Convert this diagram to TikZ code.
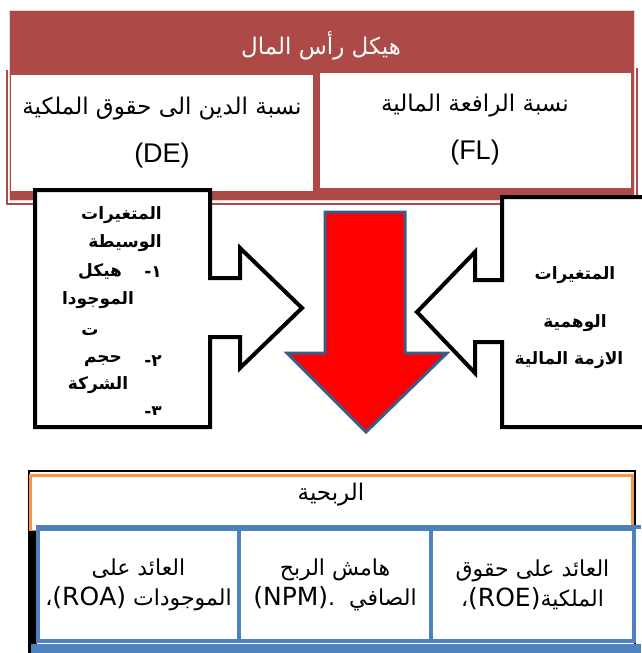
\documentclass[tikz,border=0pt]{standalone}
\usepackage{fontspec}
\setmainfont{Liberation Sans}
\newfontfamily\arabicfont[Script=Arabic]{DejaVu Sans}
\TeXXeTstate=1
\usepackage{tikz}
\usetikzlibrary{positioning}
\definecolor{capred}{RGB}{173,74,71}
\definecolor{profitorange}{RGB}{247,150,70}
\definecolor{cellblue}{RGB}{79,129,189}
\definecolor{arrowblue}{RGB}{56,93,138}
\newcommand{\ar}[1]{{\arabicfont\beginR #1\endR}}
\newcommand{\enbig}{\fontsize{27}{30}\selectfont}
\newcommand{\enmid}{\fontsize{25}{28}\selectfont}
\tikzstyle{cell} = [fill=white, align=center, inner sep=0pt, font=\fontsize{23}{26}\selectfont]
\tikzstyle{callout} = [draw=black, fill=white, line width=4, line join=miter]
\tikzstyle{calltext} = [inner sep=0pt, font=\arabicfont\bfseries\fontsize{17}{20}\selectfont]

\begin{document}
\begin{tikzpicture}[x=1pt, y=-1pt]
        \tikzstyle{bluecell} = [cell, draw=cellblue, line width=4, minimum width=196, minimum height=112, font=\fontsize{22}{26}\selectfont]
        \useasboundingbox (0,0) rectangle (641,653);

        % capital structure
        \draw[capred, line width=1.5] (7,70) -- (7,204) -- (637,204) -- (637,68);
        \draw[black!15, fill=capred] (9,10) rectangle (634,200);
        \node (captitle) at (321,46) [text=white, font=\arabicfont\fontsize{23}{26}\selectfont] {\ar{هيكل رأس المال}};
        \node (de) at (162,133) [cell, minimum width=302, minimum height=116] {\ar{نسبة الدين الى حقوق الملكية}\\[22pt]{\enbig(DE)}};
        \node (fl) at (475,130) [cell, minimum width=311, minimum height=115] {\ar{نسبة الرافعة المالية}\\[22pt]{\enbig(FL)}};

        % down arrow
        \draw[fill=red, draw=arrowblue, line width=3, line join=miter]
            (325,212) -- (405,212) -- (405,353) -- (447,353) -- (366,432) -- (287,353) -- (325,353) -- cycle;

        % mediating variables
        \draw[callout] (35,190) -- (210,190) -- (210,278) -- (240,278) -- (240,248) -- (302,308)
            -- (240,368) -- (240,337) -- (210,337) -- (210,427) -- (35,427) -- cycle;
        \node (medtitle) at (162,215) [calltext, anchor=east] {\ar{المتغيرات}};
        \node (medsub) at (162,243) [calltext, anchor=east] {\ar{الوسيطة}};
        \node (num1) at (162,272) [calltext, anchor=east] {\ar{١-}};
        \node (item1) [calltext, left=22 of num1] {\ar{هيكل}};
        \node (item1b) at (98,300) [calltext] {\ar{الموجودا}};
        \node (item1c) at (90,332) [calltext] {\ar{ت}};
        \node (num2) at (162,361) [calltext, anchor=east] {\ar{٢-}};
        \node (item2) [calltext, left=22 of num2] {\ar{حجم}};
        \node (item2b) at (98,385) [calltext] {\ar{الشركة}};
        \begin{scope}
            \clip (40,395) rectangle (205,414);
            \node (num3) at (162,412) [calltext, anchor=east] {\ar{٣-}};
        \end{scope}

        % dummy variables
        \draw[callout] (660,197) -- (502,197) -- (502,280) -- (475,280) -- (475,252) -- (417,312)
            -- (475,373) -- (475,342) -- (502,342) -- (502,427) -- (660,427);
        \node (dumtitle) at (575,275) [calltext] {\ar{المتغيرات}};
        \node (dumsub) at (575,323) [calltext] {\ar{الوهمية}};
        \node (crisis) at (569,360) [calltext] {\ar{الازمة المالية}};

        % profitability
        \draw[black, line width=1.5] (29,471) rectangle (635,660);
        \draw[profitorange, line width=3] (30,475) rectangle (632,531);
        \fill[black] (28,531) rectangle (37,653);
        \node (proftitle) at (331,495) [font=\arabicfont\fontsize{23}{26}\selectfont] {\ar{الربحية}};
        \draw[cellblue, line width=4] (36,527) -- (641,527);
        \node (roa) at (138.5,585) [bluecell, minimum width=201] {\ar{العائد على}\\[4pt]\ar{الموجودات \beginL{\enmid(ROA)}\endL،}};
        \node (npm) at (335,585) [bluecell, minimum width=192] {\ar{هامش الربح}\\[4pt]\ar{الصافي \ .\beginL{\enmid(NPM)}\endL}};
        \node (roe) at (532.5,585) [bluecell, minimum width=203] {\ar{العائد على حقوق}\\[4pt]\ar{الملكية\beginL{\enmid(ROE)}\endL،}};
        \fill[cellblue] (31,644) rectangle (641,653);
    \end{tikzpicture}
\end{document}
